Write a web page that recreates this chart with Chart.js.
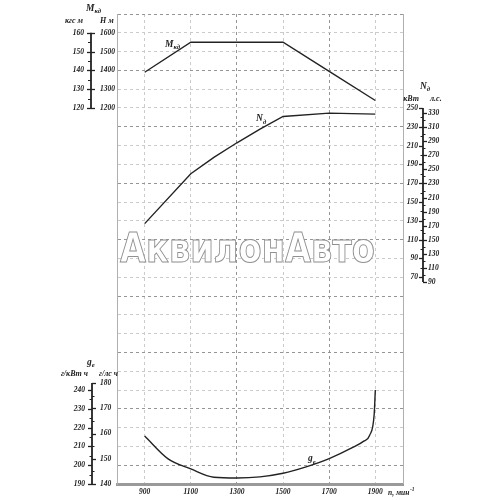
<!DOCTYPE html>
<html>
<head>
<meta charset="utf-8">
<script src="https://cdn.jsdelivr.net/npm/chart.js@4.4.0/dist/chart.umd.min.js"></script>
<style>
  html, body { margin: 0; padding: 0; background: #fff; }
</style>
</head>
<body>
<canvas id="myChart" width="500" height="500"></canvas>
<script>
// engine speed, min^-1
var rpmTicks = [900, 1100, 1300, 1500, 1700, 1900];

// torque M_кд, N m
var torqueRpm = [900, 1100, 1300, 1500, 1700, 1900];
var torqueNm = [1390, 1550, 1550, 1550, 1395, 1240];

// power N_д, kW
var powerRpm = [900, 1100, 1200, 1300, 1400, 1500, 1700, 1900];
var powerKw = [127, 180, 197.5, 213, 227.5, 241, 244.5, 243.5];

// specific fuel consumption g_e, g/kWh
var fuelRpm = [900, 1000, 1100, 1200, 1300, 1400, 1500, 1600, 1700, 1800, 1850, 1875, 1895, 1900];
var fuelG = [215.5, 203.5, 198, 193.6, 193.2, 193.8, 195.7, 199.1, 203.5, 209.3, 212.8, 215.8, 227, 240];

// labels of the side scales
var nmTicks = [1200, 1300, 1400, 1500, 1600];
var kgcTicks = [120, 130, 140, 150, 160];
var kwTicks = [70, 90, 110, 130, 150, 170, 190, 210, 230, 250];
var hpTicks = [90, 110, 130, 150, 170, 190, 210, 230, 250, 270, 290, 310, 330];
var gkwTicks = [190, 200, 210, 220, 230, 240];
var ghpTicks = [140, 150, 160, 170, 180];

var ink = '#222';
var serif = '"Liberation Serif", "DejaVu Serif", serif';
var tickFont = 'italic bold 7.5px ' + serif;

function pts(xs, ys) {
    return xs.map(function (x, i) { return { x: x, y: ys[i] }; });
}

function mids(values) {
    var out = [];
    for (var i = 0; i < values.length - 1; i++) out.push((values[i] + values[i + 1]) / 2);
    return out;
}

function ticks(ctx, scale, values, x, len, lw) {
    ctx.lineWidth = lw;
    values.forEach(function (v) {
        var y = Math.round(scale.getPixelForValue(v)) + 0.5;
        ctx.beginPath();
        ctx.moveTo(x, y);
        ctx.lineTo(x + len, y);
        ctx.stroke();
    });
}

function labels(ctx, scale, values, x, align) {
    ctx.font = tickFont;
    ctx.textAlign = align;
    ctx.textBaseline = 'middle';
    values.forEach(function (v) {
        ctx.fillText(String(v), x, scale.getPixelForValue(v));
    });
}

function vline(ctx, x, y1, y2) {
    ctx.lineWidth = 1.8;
    ctx.beginPath();
    ctx.moveTo(x, y1);
    ctx.lineTo(x, y2);
    ctx.stroke();
}

// text with a subscript, like M_кд
function subText(ctx, main, sub, x, y, size) {
    ctx.textAlign = 'left';
    ctx.textBaseline = 'alphabetic';
    ctx.font = 'italic bold ' + size + 'px ' + serif;
    ctx.fillText(main, x, y);
    var w = ctx.measureText(main).width;
    ctx.font = 'italic bold ' + (size * 0.7) + 'px ' + serif;
    ctx.fillText(sub, x + w, y + size * 0.25);
}

function plain(ctx, text, x, y, align, size) {
    ctx.font = 'italic bold ' + size + 'px ' + serif;
    ctx.textAlign = align;
    ctx.textBaseline = 'alphabetic';
    ctx.fillText(text, x, y);
}

var decor = {
    id: 'decor',
    afterDraw: function (chart) {
        var ctx = chart.ctx;
        var s = chart.scales;
        var a = chart.chartArea;
        ctx.save();

        // right frame edge
        ctx.strokeStyle = '#b0b0b0';
        ctx.lineWidth = 1;
        ctx.beginPath();
        ctx.moveTo(a.right + 0.5, a.top);
        ctx.lineTo(a.right + 0.5, a.bottom);
        ctx.stroke();

        ctx.strokeStyle = ink;
        ctx.fillStyle = ink;

        // torque scale: кгс м | Н м
        vline(ctx, 91, s.yKgc.getPixelForValue(120), s.yKgc.getPixelForValue(160));
        ticks(ctx, s.yKgc, kgcTicks, 87, 8, 1.3);
        ticks(ctx, s.yKgc, mids(kgcTicks), 88, 3, 1);
        labels(ctx, s.yKgc, kgcTicks, 84, 'right');
        labels(ctx, s.yNm, nmTicks, 100, 'left');
        subText(ctx, 'M', 'кд', 86, 11, 9.5);
        plain(ctx, 'кгс м', 83, 23, 'right', 8);
        plain(ctx, 'Н м', 100, 23, 'left', 8);

        // power scale: кВт | л.с.
        vline(ctx, 423, s.yHp.getPixelForValue(90), s.yKW.getPixelForValue(250));
        ticks(ctx, s.yKW, kwTicks, 423, -4, 1.3);
        ticks(ctx, s.yKW, mids(kwTicks), 423, -2.5, 1);
        ticks(ctx, s.yHp, hpTicks, 423, 4, 1.3);
        ticks(ctx, s.yHp, mids(hpTicks), 423, 2.5, 1);
        labels(ctx, s.yKW, kwTicks, 418, 'right');
        labels(ctx, s.yHp, hpTicks, 428, 'left');
        subText(ctx, 'N', 'д', 420, 89, 9.5);
        plain(ctx, 'кВт', 419, 101, 'right', 8);
        plain(ctx, 'л.с.', 430, 101, 'left', 8);

        // fuel scale: г/кВт ч | г/лс ч
        vline(ctx, 92, s.yGkw.getPixelForValue(190), s.yGhp.getPixelForValue(180));
        ticks(ctx, s.yGkw, gkwTicks, 92, -4, 1.3);
        ticks(ctx, s.yGkw, mids(gkwTicks), 92, -2.5, 1);
        ticks(ctx, s.yGhp, ghpTicks, 92, 4, 1.3);
        ticks(ctx, s.yGhp, mids(ghpTicks), 92, 2.5, 1);
        labels(ctx, s.yGkw, gkwTicks, 85, 'right');
        labels(ctx, s.yGhp, ghpTicks, 100, 'left');
        subText(ctx, 'g', 'e', 87, 365, 9.5);
        plain(ctx, 'г/кВт ч', 88, 376, 'right', 8);
        plain(ctx, 'г/лс ч', 118, 376, 'right', 8);

        // curve names, placed in data coordinates
        subText(ctx, 'M', 'кд', s.x.getPixelForValue(988), s.yNm.getPixelForValue(1524), 9.5);
        subText(ctx, 'N', 'д', s.x.getPixelForValue(1383), s.yKW.getPixelForValue(236), 9.5);
        subText(ctx, 'g', 'e', s.x.getPixelForValue(1608), s.yGkw.getPixelForValue(202), 9.5);

        // x axis name
        plain(ctx, 'n, мин', 388, 495, 'left', 7.5);
        ctx.font = 'italic bold 7.5px ' + serif;
        var w = ctx.measureText('n, мин').width;
        ctx.font = 'italic bold 5.5px ' + serif;
        ctx.fillText('-1', 388 + w + 0.5, 491);

        // watermark
        var mark = 'АквилонАвто';
        ctx.font = 'bold 40px "DejaVu Sans", sans-serif';
        ctx.textAlign = 'left';
        ctx.textBaseline = 'alphabetic';
        var mw = ctx.measureText(mark).width;
        ctx.translate(120, 262);
        ctx.scale(255 / mw, 1);
        ctx.fillStyle = '#fff';
        ctx.fillText(mark, 0, 0);
        ctx.strokeStyle = '#909090';
        ctx.lineWidth = 1;
        ctx.strokeText(mark, 0, 0);

        ctx.restore();
    }
};

var lineStyle = {
    borderColor: ink,
    borderWidth: 1.4,
    pointRadius: 0,
    fill: false
};

var ctx = document.getElementById('myChart');
var chart = new Chart(ctx, {
    type: 'line',
    data: {
        datasets: [
            Object.assign({ label: 'M_кд', data: pts(torqueRpm, torqueNm), yAxisID: 'yNm', tension: 0 }, lineStyle),
            Object.assign({ label: 'N_д', data: pts(powerRpm, powerKw), yAxisID: 'yKW', tension: 0 }, lineStyle),
            Object.assign({ label: 'g_e', data: pts(fuelRpm, fuelG), yAxisID: 'yGkw', cubicInterpolationMode: 'monotone' }, lineStyle)
        ]
    },
    options: {
        responsive: false,
        animation: false,
        layout: { padding: { left: 117, right: 97, top: 14, bottom: 0 } },
        plugins: {
            legend: { display: false },
            tooltip: { enabled: false }
        },
        scales: {
            x: {
                type: 'linear',
                min: 780,
                max: 2020,
                afterBuildTicks: function (scale) {
                    scale.ticks = rpmTicks.map(function (v) { return { value: v }; });
                },
                afterFit: function (scale) { scale.height = 16; },
                ticks: {
                    color: ink,
                    padding: 4,
                    maxRotation: 0,
                    autoSkip: false,
                    font: { family: 'Liberation Serif', size: 7.5, style: 'italic', weight: 'bold' },
                    callback: function (v) { return String(v); }
                },
                grid: {
                    drawTicks: false,
                    color: function (c) {
                        var v = c.tick && c.tick.value;
                        return (v === 1300 || v === 1700) ? '#959595' : '#cbcbcb';
                    }
                },
                border: { display: true, color: '#9a9a9a', width: 3, dash: [3, 3] }
            },
            yg: {
                type: 'linear',
                position: 'left',
                min: 0,
                max: 25,
                afterBuildTicks: function (scale) {
                    var t = [];
                    for (var i = 0; i <= 25; i++) t.push({ value: i });
                    scale.ticks = t;
                },
                afterFit: function (scale) { scale.width = 0; },
                ticks: { display: false },
                grid: {
                    drawTicks: false,
                    color: function (c) {
                        var v = c.tick ? c.tick.value : 0;
                        return (25 - v) % 3 === 0 ? '#959595' : '#cbcbcb';
                    }
                },
                border: { display: true, color: '#b0b0b0', width: 1, dash: [3, 3] }
            },
            yNm: { type: 'linear', display: false, min: -800, max: 1700 },
            yKgc: { type: 'linear', display: false, min: -80, max: 170 },
            yKW: { type: 'linear', display: false, min: -150, max: 350 },
            yHp: { type: 'linear', display: false, min: -196.8, max: 470.7 },
            yGkw: { type: 'linear', display: false, min: 190, max: 440 },
            yGhp: { type: 'linear', display: false, min: 140, max: 326.25 }
        }
    },
    plugins: [decor]
});
</script>
</body>
</html>
